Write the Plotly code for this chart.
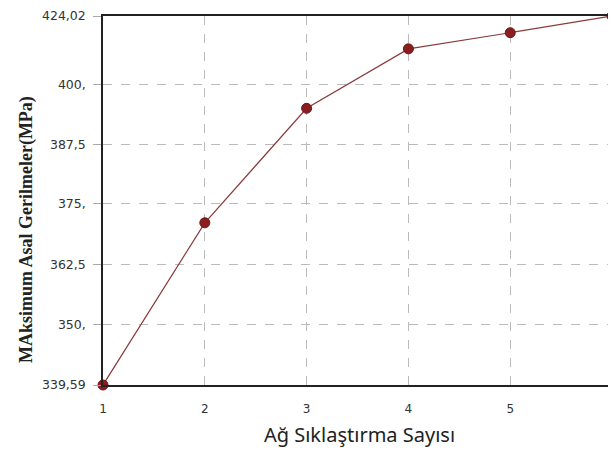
import plotly.graph_objects as go

refinements = [1, 2, 3, 4, 5, 6]
max_stress = [339.59, 376.7, 402.9, 416.5, 420.2, 424.02]

y_tick_vals = [339.59, 353.47, 367.13, 381.01, 394.66, 408.32, 424.02]
y_tick_text = ["339,59", "350,", "362,5", "375,", "387,5", "400,", "424,02"]
x_tick_vals = [1, 2, 3, 4, 5, 6]
x_tick_text = ["1", "2", "3", "4", "5", "6"]

fig = go.Figure()
fig.add_trace(go.Scatter(
    x=refinements, y=max_stress, mode="lines+markers",
    line=dict(color="#8a3a3a", width=1.2),
    marker=dict(color="#8b1c1f", size=10, line=dict(color="#6e1515", width=1)),
    cliponaxis=False, showlegend=False,
))

fig.update_layout(
    width=608, height=440,
    margin=dict(l=95, r=0, t=6, b=63),
    paper_bgcolor="white", plot_bgcolor="white",
    font=dict(family="DejaVu Sans, Tahoma, sans-serif", size=11, color="#333333"),
)
fig.update_xaxes(
    range=[1, 6.039], tickvals=x_tick_vals, ticktext=x_tick_text,
    showline=True, linecolor="#222222", linewidth=1.5, mirror=True,
    showgrid=True, gridcolor="#bbbbbb", griddash="dash", gridwidth=1,
    zeroline=False, ticks="", ticklabelstandoff=12, ticklabeloverflow="allow",
    tickfont=dict(size=12, color="#333333"),
    title=dict(text="Ağ Sıklaştırma Sayısı", font=dict(family="Noto Sans, Open Sans, sans-serif", size=20, color="#222222"), standoff=14),
)
fig.update_yaxes(
    range=[339.59, 424.02], tickvals=y_tick_vals, ticktext=y_tick_text,
    showline=True, linecolor="#222222", linewidth=1.5, mirror=False,
    showgrid=True, gridcolor="#bbbbbb", griddash="dash", gridwidth=1,
    zeroline=False, ticks="outside", ticklen=8, tickcolor="#aaaaaa",
    ticklabelstandoff=5, ticklabeloverflow="allow",
    tickfont=dict(size=12.5, color="#333333"),
)
fig.add_annotation(
    text="<b>MAksimum Asal Gerilmeler(MPa)</b>",
    xref="paper", yref="paper", x=-0.15, y=0.42, textangle=-90,
    showarrow=False, xanchor="center", yanchor="middle",
    font=dict(family="Liberation Serif, Times New Roman, serif", size=18, color="#222222"),
)

fig.write_html("out.html")
